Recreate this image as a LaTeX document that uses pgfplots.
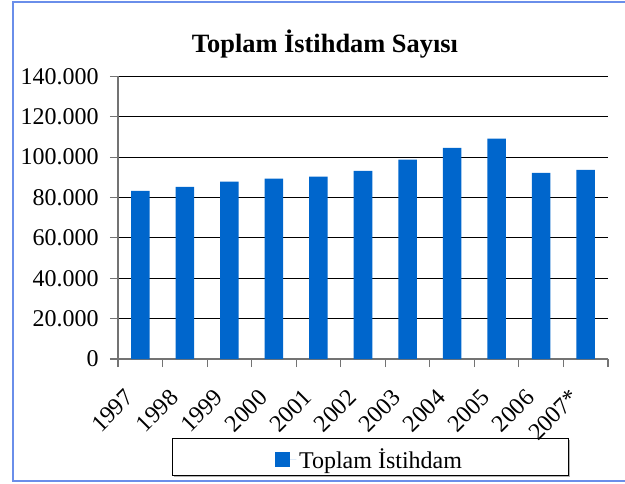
\documentclass[border=0pt]{standalone}
\usepackage{pgfplots}
\pgfplotsset{compat=1.18}
\usepackage{fontspec}
\setmainfont{Liberation Serif}
\definecolor{barblue}{HTML}{0066CC}
\definecolor{frameblue}{HTML}{6A8EEA}
\begin{document}
\begin{tikzpicture}[x=0.75pt,y=0.75pt]
\path[use as bounding box] (0,0) rectangle (625,483);
\draw[frameblue,line width=1.5pt] (12.5,2) rectangle (626,481);
\node[font=\fontsize{19.8}{22}\selectfont\bfseries] at (325,439) {Toplam İstihdam Sayısı};
\fill[gray!60] (174,6) rectangle (570,43);
\draw[black, fill=white, line width=0.6pt] (172,8) rectangle (568,45);
\begin{axis}[
  at={(88.5pt,93pt)}, anchor=south west,
  scale only axis, width=367.5pt, height=212pt,
  xmin=-0.5, xmax=10.5, ymin=0, ymax=140000,
  axis x line=bottom, axis y line=left,
  axis line style={draw=gray!90!black, line width=0.8pt, -},
  scaled y ticks=false,
  ytick={0,20000,...,140000},
  yticklabels={0,20.000,40.000,60.000,80.000,100.000,120.000,140.000},
  ymajorgrids, grid style={black, line width=0.6pt},
  tick style={gray!90!black, line width=0.8pt},
  major tick length=6pt,
  ytick align=outside,
  yticklabel style={xshift=-5pt},
  xtick={0,...,10},
  xticklabels={1997,1998,1999,2000,2001,2002,2003,2004,2005,2006,2007*},
  xtick style={draw=none},
  extra x ticks={-0.5,0.5,...,10.5},
  extra x tick labels={},
  extra x tick style={tick align=outside, major tick length=6pt, xtick style={draw=gray!90!black, line width=0.8pt}},
  xticklabel style={xshift=-8pt, yshift=-23pt, rotate=45, anchor=east, inner sep=0pt},
  ticklabel style={font=\fontsize{18}{20}\selectfont},
  /pgf/number format/assume math mode=true,
  clip=false,
  legend style={draw=none, fill=none, at={(0.514,-0.355)}, anchor=center,
    font=\fontsize{18}{20}\selectfont},
  legend image code/.code={\fill[barblue] (0pt,-5.7pt) rectangle (11.4pt,5.7pt); \path (0pt,0pt) -- (16pt,0pt);},
]
\addplot[ybar, bar width=13.9pt, fill=barblue, draw=none] coordinates {
(0,83300) (1,85300) (2,87800) (3,89300) (4,90300) (5,93200)
(6,98700) (7,104600) (8,109100) (9,92200) (10,93700)};
\addlegendentry{Toplam İstihdam}
\end{axis}
\end{tikzpicture}
\end{document}
